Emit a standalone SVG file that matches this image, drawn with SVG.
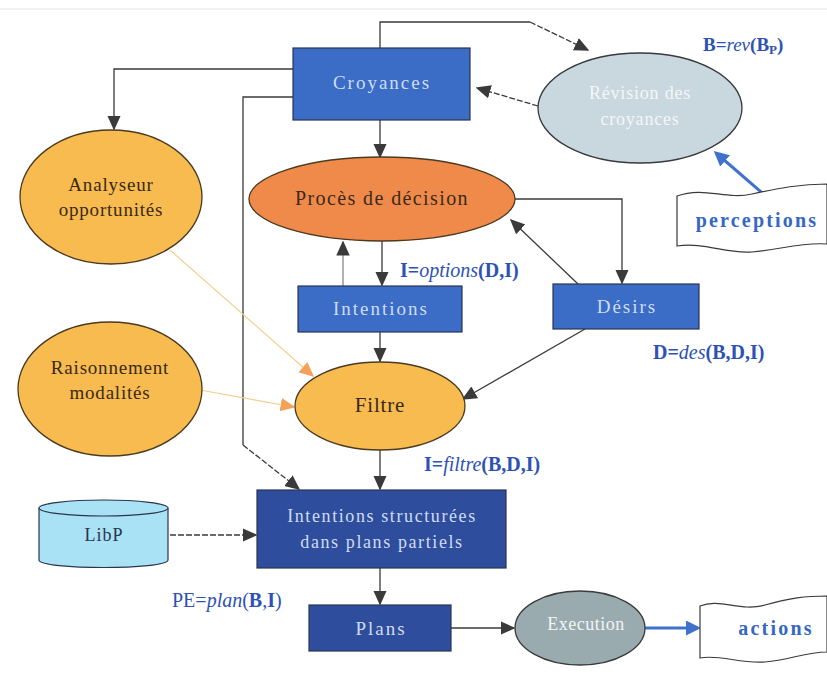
<svg xmlns="http://www.w3.org/2000/svg" width="827" height="673" viewBox="0 0 827 673" font-family="'Liberation Serif', 'DejaVu Serif', serif">
  <defs>
    <marker id="ah" viewBox="0 0 10 10" refX="9" refY="5" markerWidth="15" markerHeight="15" markerUnits="userSpaceOnUse" orient="auto">
      <path d="M0,0.5 L10,5 L0,9.5 z" fill="#3a3a3a"/>
    </marker>
    <marker id="ahOrange" viewBox="0 0 10 10" refX="9" refY="5" markerWidth="15" markerHeight="15" markerUnits="userSpaceOnUse" orient="auto">
      <path d="M0,0.5 L10,5 L0,9.5 z" fill="#f4a25a"/>
    </marker>
    <marker id="ahBlue" viewBox="0 0 10 10" refX="8" refY="5" markerWidth="15" markerHeight="15" markerUnits="userSpaceOnUse" orient="auto">
      <path d="M0,0 L10,5 L0,10 z" fill="#3f72cc"/>
    </marker>
  </defs>
  <style>
    text { font-family: "Liberation Serif", "DejaVu Serif", serif; text-anchor: middle; }
    .box { stroke: #2a3550; stroke-width: 1.2; }
    .blue { fill: #3b6cc6; }
    .dark { fill: #2e4d9c; }
    .ell { stroke: #4a3a20; stroke-width: 1.3; }
    .yel { fill: #f7bb50; }
    .boxtxt { fill: #cfdcf2; font-size: 19px; letter-spacing: 2px; }
    .eltxt { fill: #3a2a1a; font-size: 19px; letter-spacing: 0.8px; }
    .lbl { fill: #2d52b4; font-size: 20px; font-weight: bold; text-anchor: start; }
    .lbl .it { font-style: italic; font-weight: normal; }
    .conn { fill: none; stroke: #3a3a3a; stroke-width: 1.3; }
    .dash { stroke-dasharray: 6 2; }
    .orange { fill: none; stroke: #f2cf8a; stroke-width: 1.2; }
    .bluearrow { fill: none; stroke: #3f72cc; stroke-width: 3; }
    .doc { fill: #ffffff; stroke: #3a3a3a; stroke-width: 1.2; }
    .doctxt { fill: #3468c4; font-size: 20px; font-weight: bold; letter-spacing: 2.2px; }
  </style>

  <rect x="0" y="0" width="827" height="673" fill="#ffffff"/>
  <line x1="0" y1="9" x2="827" y2="9" stroke="#e2e2e2" stroke-width="1"/>

  <!-- connectors -->
  <g id="connectors">
    <path class="conn" d="M380,48 V22 H530"/>
    <path class="conn dash" d="M530,22 L588,50" marker-end="url(#ah)"/>
    <path class="conn dash" d="M538,106 L477,88" marker-end="url(#ah)"/>
    <path class="conn" d="M293,69 H114 V129" marker-end="url(#ah)"/>
    <path class="conn" d="M293,97 H243 V445"/>
    <path class="conn dash" d="M243,445 L299,489" marker-end="url(#ah)"/>
    <path class="conn" d="M380,120 V157" marker-end="url(#ah)"/>
    <path class="conn" d="M382,241 V285" marker-end="url(#ah)"/>
    <path class="conn" style="stroke:#888" d="M343,286 V242" marker-end="url(#ah)"/>
    <path class="conn" d="M515,199 H622 V283" marker-end="url(#ah)"/>
    <path class="conn" d="M578,284 L511,220" marker-end="url(#ah)"/>
    <path class="conn" d="M585,329 L463,399" marker-end="url(#ah)"/>
    <path class="conn" d="M380,332 V361" marker-end="url(#ah)"/>
    <path class="conn" d="M380,450 V489" marker-end="url(#ah)"/>
    <path class="conn dash" d="M170,535 H256" marker-end="url(#ah)"/>
    <path class="conn" d="M380,568 V604" marker-end="url(#ah)"/>
    <path class="conn" d="M451,628 H514" marker-end="url(#ah)"/>
    <path class="orange" d="M170,250 L313,376" marker-end="url(#ahOrange)"/>
    <path class="orange" d="M200,390 L294,407" marker-end="url(#ahOrange)"/>
    <path class="bluearrow" d="M768,198 L716,153" marker-end="url(#ahBlue)"/>
    <path class="bluearrow" d="M645,628 H698" marker-end="url(#ahBlue)"/>
  </g>

  <!-- nodes -->
  <g id="croyances">
    <rect class="box blue" x="293" y="48" width="177" height="72"/>
    <text class="boxtxt" x="382" y="89">Croyances</text>
  </g>

  <g id="revision">
    <ellipse cx="640" cy="108" rx="102" ry="55" fill="#c9d7df" stroke="#3a3a3a" stroke-width="1.3"/>
    <text x="640" y="99" style="fill:#f4f6f8;font-size:18px;letter-spacing:0.8px">Révision des</text>
    <text x="640" y="125" style="fill:#f4f6f8;font-size:18px;letter-spacing:0.8px">croyances</text>
  </g>

  <g id="label-rev">
    <text class="lbl" x="703" y="51" style="font-size:19px">B=<tspan class="it">rev</tspan>(B<tspan font-size="13" dy="3">P</tspan><tspan dy="-3">)</tspan></text>
  </g>

  <g id="perceptions">
    <path class="doc" d="M677,196 C705,186 725,200 752,194 C780,188 800,184 827,184 L827,244 C800,242 780,250 752,252 C725,254 705,242 677,246 Z"/>
    <text class="doctxt" x="757" y="227">perceptions</text>
  </g>

  <g id="analyseur">
    <ellipse class="ell yel" cx="111" cy="197" rx="91" ry="67"/>
    <text class="eltxt" x="111" y="191">Analyseur</text>
    <text class="eltxt" x="111" y="216">opportunités</text>
  </g>

  <g id="proces">
    <ellipse class="ell" cx="382" cy="199" rx="133" ry="42" fill="#f08a4b"/>
    <text x="382" y="205" style="fill:#3a2a1a;font-size:20px;letter-spacing:1.4px">Procès de décision</text>
  </g>

  <g id="label-options">
    <text class="lbl" x="400" y="277">I=<tspan class="it">options</tspan>(D,I)</text>
  </g>

  <g id="intentions">
    <rect class="box blue" x="298" y="286" width="164" height="46"/>
    <text class="boxtxt" x="381" y="315">Intentions</text>
  </g>

  <g id="desirs">
    <rect class="box blue" x="553" y="284" width="146" height="45"/>
    <text class="boxtxt" x="627" y="313">Désirs</text>
  </g>

  <g id="label-des">
    <text class="lbl" x="653" y="359">D=<tspan class="it">des</tspan>(B,D,I)</text>
  </g>

  <g id="raisonnement">
    <ellipse class="ell yel" cx="110" cy="389" rx="92" ry="67"/>
    <text class="eltxt" x="110" y="374">Raisonnement</text>
    <text class="eltxt" x="110" y="399">modalités</text>
  </g>

  <g id="filtre">
    <ellipse class="ell yel" cx="380" cy="406" rx="85" ry="44"/>
    <text class="eltxt" x="380" y="412" style="font-size:21px">Filtre</text>
  </g>

  <g id="label-filtre">
    <text class="lbl" x="424" y="471">I=<tspan class="it">filtre</tspan>(B,D,I)</text>
  </g>

  <g id="libp">
    <path d="M39,508 V560 C39,570 168,570 168,560 V508" fill="#a8e2f4" stroke="#2a3550" stroke-width="1.2"/>
    <ellipse cx="103.5" cy="508" rx="64.5" ry="8" fill="#a8e2f4" stroke="#2a3550" stroke-width="1.2"/>
    <text x="104" y="541" style="fill:#2a3550;font-size:18px;letter-spacing:1px">LibP</text>
  </g>

  <g id="intentions-structurees">
    <rect class="box dark" x="257" y="490" width="249" height="78"/>
    <text class="boxtxt" x="382" y="522" style="font-size:18px;letter-spacing:1.6px">Intentions structurées</text>
    <text class="boxtxt" x="382" y="548" style="font-size:18px;letter-spacing:1.6px">dans plans partiels</text>
  </g>

  <g id="label-plan">
    <text class="lbl" x="172" y="607" style="font-weight:normal">PE=<tspan class="it">plan</tspan>(<tspan font-weight="bold">B</tspan>,<tspan font-weight="bold">I</tspan>)</text>
  </g>

  <g id="plans">
    <rect class="box dark" x="309" y="605" width="142" height="46"/>
    <text class="boxtxt" x="381" y="635">Plans</text>
  </g>

  <g id="execution">
    <ellipse cx="580" cy="628" rx="65" ry="37" fill="#9aabb0" stroke="#3a3a3a" stroke-width="1.3"/>
    <text x="586" y="630" style="fill:#f2f4f4;font-size:18px;letter-spacing:0.5px">Execution</text>
  </g>

  <g id="actions">
    <path class="doc" d="M700,606 C720,598 740,612 765,605 C790,598 805,596 827,596 L827,652 C805,652 790,660 765,662 C740,664 720,654 700,658 Z"/>
    <text class="doctxt" x="776" y="635">actions</text>
  </g>
</svg>
